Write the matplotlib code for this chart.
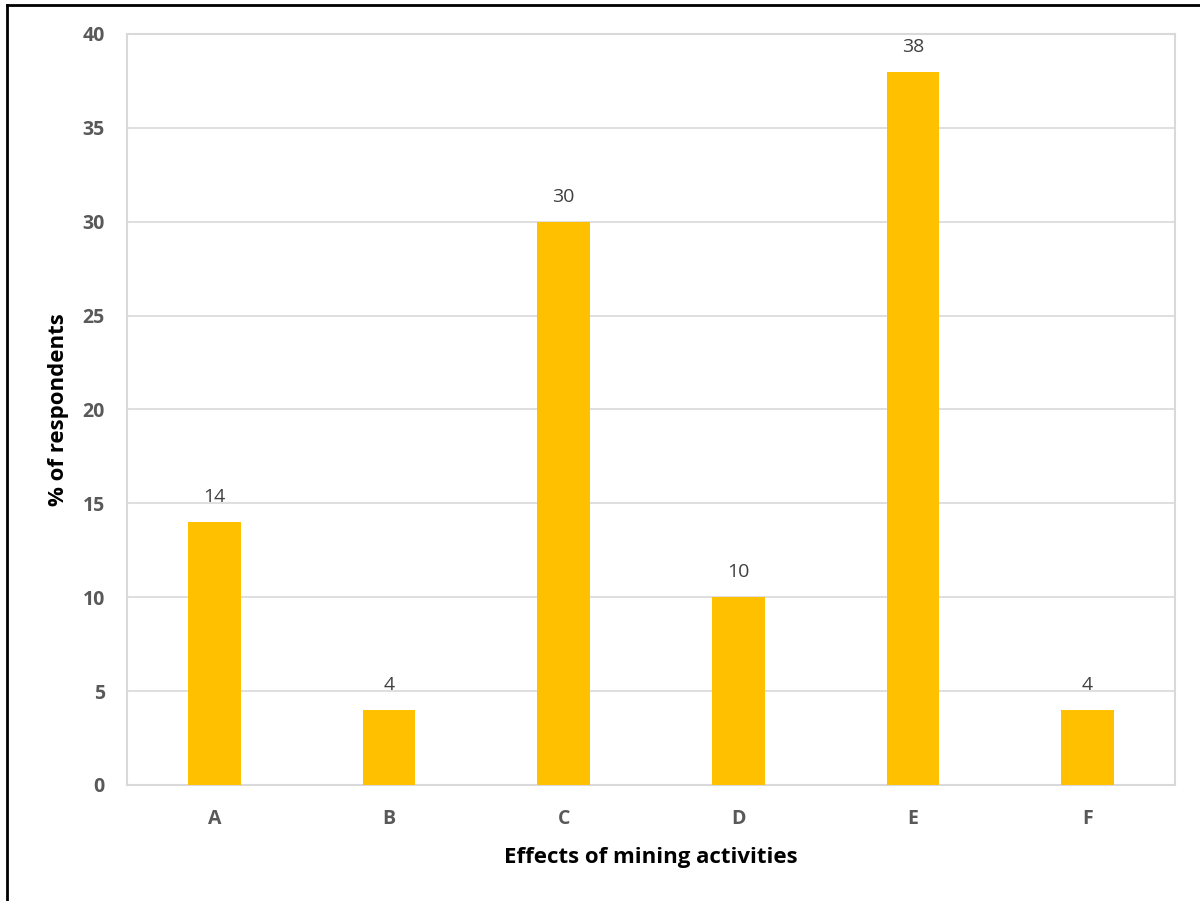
import numpy as np
import matplotlib.pyplot as plt

# categories and share of respondents (%)
categories = ["A", "B", "C", "D", "E", "F"]
respondents = [14, 4, 30, 10, 38, 4]
y_ticks = [0, 5, 10, 15, 20, 25, 30, 35, 40]

fig = plt.figure(figsize=(12, 9.01), dpi=100)
ax = fig.add_axes([127 / 1200, 1 - 785 / 901, 1048 / 1200, 751 / 901])

x = np.arange(len(categories))
bars = ax.bar(x, respondents, width=0.30, color="#FFC000", zorder=3)

# value labels above each bar
for xi, val in zip(x, respondents):
    ax.text(xi, val + 0.85, str(val), ha="center", va="bottom",
            fontsize=14, color="#404040", family="Open Sans")

ax.set_xlim(-0.5, len(categories) - 0.5)
ax.set_ylim(0, 40)
ax.set_yticks(y_ticks)
ax.set_xticks(x)
ax.set_xticklabels(categories)

for lab in ax.get_xticklabels() + ax.get_yticklabels():
    lab.set_family("Open Sans")
    lab.set_fontweight("bold")
    lab.set_fontsize(14)
    lab.set_color("#595959")

ax.tick_params(axis="both", length=0)
ax.tick_params(axis="y", pad=16)
ax.tick_params(axis="x", pad=17)

ax.grid(axis="y", color="#d9d9d9", linewidth=1.2, zorder=0)
for side in ax.spines.values():
    side.set_color("#d9d9d9")
    side.set_linewidth(1.5)

ax.set_xlabel("Effects of mining activities", family="Open Sans",
              fontweight="bold", fontsize=16, color="black", labelpad=13)
ax.set_ylabel("% of respondents", family="Open Sans",
              fontweight="bold", fontsize=16, color="black", labelpad=10)

# outer frame on the left and top edges
fig.add_artist(plt.Line2D([6.5 / 1200, 6.5 / 1200], [0, 1 - 5 / 901],
                          transform=fig.transFigure, color="black", linewidth=2))
fig.add_artist(plt.Line2D([6.5 / 1200, 1], [1 - 5 / 901, 1 - 5 / 901],
                          transform=fig.transFigure, color="black", linewidth=2))

fig.savefig("out.png", dpi=100)
